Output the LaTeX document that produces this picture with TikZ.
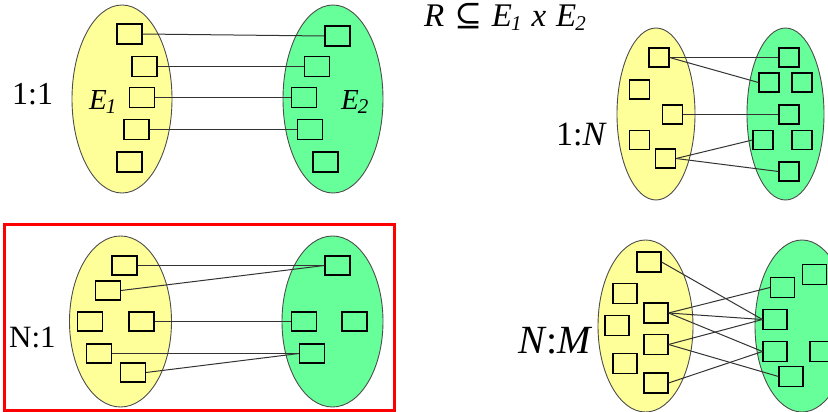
\documentclass[tikz,border=0pt]{standalone}
\usepackage{fontspec}
\setmainfont{Liberation Serif}
\newfontfamily\symfont{DejaVu Serif}
\usetikzlibrary{shapes.geometric}
\definecolor{cyellow}{HTML}{FFFF99}
\definecolor{cgreen}{HTML}{66FF99}
\definecolor{cedge}{HTML}{4D4D4D}
\definecolor{cred}{HTML}{FF0000}
\newcommand{\lowsub}[1]{\kern-1pt\raisebox{-4pt}{\fontsize{21}{21}\selectfont\itshape #1}}
\tikzset{
  every picture/.style={x=1pt, y=-1pt},
  entset/.style={ellipse, draw=cedge, fill=#1, line width=0.9pt, inner sep=0pt},
  elem/.style={draw=black, line width=1.1pt, minimum width=25pt, minimum height=20pt, inner sep=0pt},
  link/.style={draw=black!80, line width=1pt},
  card/.style={inner sep=0pt, font=\fontsize{#1}{#1}\selectfont},
  card/.default=32,
  setname/.style={inner sep=0pt, font=\fontsize{29}{29}\selectfont\itshape},
  frame/.style={draw=cred, line width=3pt},
}

\begin{document}
\begin{tikzpicture}
  \useasboundingbox (0,0) rectangle (828,412);
  \node[card=33, anchor=base] (rel) at (505,27) {\textit{R}\hspace{10pt}{\symfont ⊆}\hspace{10pt}\textit{E}\lowsub{1}\hspace{10pt}\textit{x}\hspace{10pt}\textit{E}\lowsub{2}};
  % 1:1
  \node[entset=cyellow, minimum width=100pt, minimum height=188pt] (ooL) at (122,99) {};
  \node[entset=cgreen, minimum width=100pt, minimum height=188pt] (ooR) at (333,99) {};
  \node[card=32, anchor=base west] (ooCard) at (12,105) {1:1};
  \node[setname, anchor=base west] (ooE1) at (89,110) {E\lowsub{1}};
  \node[setname, anchor=base west] (ooE2) at (341,110) {E\lowsub{2}};
  \foreach \n/\x/\y in {ooL1/129.5/34, ooL2/144.5/66.5, ooL3/142/97.5, ooL4/136.5/129.5, ooL5/129.5/162,
                        ooR1/337.5/36, ooR2/317/66.5, ooR3/304/97.5, ooR4/310/129.5, ooR5/325.5/162}
    \node[elem] (\n) at (\x,\y) {};
  \foreach \s/\t in {ooL1/ooR1, ooL2/ooR2, ooL3/ooR3, ooL4/ooR4}
    \draw[link] (\s.east) -- (\t.west);
  % 1:N
  \node[entset=cyellow, minimum width=78pt, minimum height=172pt] (onL) at (656,114) {};
  \node[entset=cgreen, minimum width=77pt, minimum height=172pt] (onR) at (785.5,114) {};
  \node[card=34, anchor=base west] (onCard) at (556,145) {1:\textit{N}};
  \foreach \n/\x/\y in {onL1/659/57.5, onL2/639.5/89.5, onL3/672.5/114.5, onL4/639.5/140, onL5/665.5/158.5,
                        onR1/789/57.5, onR2/769/82.5, onR3/802/82.5, onR4/789/114.5, onR5/763/140,
                        onR6/802/140, onR7/789/171.5}
    \node[elem, minimum width=20pt, minimum height=19pt] (\n) at (\x,\y) {};
  \foreach \s/\t in {onL1/onR1, onL1/onR2, onL3/onR4, onL5/onR5, onL5/onR7}
    \draw[link] (\s.east) -- (\t.west);
  % N:1
  \draw[frame] (4,224) rectangle (394,410);
  \node[entset=cyellow, minimum width=102pt, minimum height=171pt] (noL) at (120.5,321.5) {};
  \node[entset=cgreen, minimum width=101pt, minimum height=171pt] (noR) at (332.5,321.5) {};
  \node[card=31, anchor=base west] (noCard) at (9,347) {N:1};
  \foreach \n/\x/\y in {noL1/124.5/265.5, noL2/108/290.5, noL3/90/321.5, noL4/141.5/321.5, noL5/99/353.5,
                        noL6/133/372.5, noR1/337.5/265.5, noR2/304/321.5, noR3/354.5/321.5, noR4/312/353.5}
    \node[elem, minimum height=19pt] (\n) at (\x,\y) {};
  \foreach \s/\t in {noL1/noR1, noL2/noR1, noL4/noR2, noL5/noR4, noL6/noR4}
    \draw[link] (\s.east) -- (\t.west);
  % N:M
  \node[entset=cyellow, minimum width=95pt, minimum height=172pt] (nmL) at (645.5,326) {};
  \node[entset=cgreen, minimum width=94pt, minimum height=172pt] (nmR) at (802,326) {};
  \node[card=40, anchor=base west] (nmCard) at (518,353) {\textit{N}:\textit{M}};
  \foreach \n/\x/\y in {nmL1/649/262, nmL2/625/293.5, nmL3/656/313, nmL4/617/325.5, nmL5/656/344.5,
                        nmL6/625/363.5, nmL7/656/383, nmR1/814.5/274.5, nmR2/782.5/287.5, nmR3/775/319.5,
                        nmR4/775/351.5, nmR5/822/351.5, nmR6/791/376.5}
    \node[elem, minimum width=24pt] (\n) at (\x,\y) {};
  \foreach \s/\t in {nmL1/nmR3, nmL3/nmR2, nmL3/nmR3, nmL3/nmR4, nmL5/nmR3, nmL5/nmR6, nmL7/nmR4}
    \draw[link] (\s.east) -- (\t.west);
\end{tikzpicture}
\end{document}
